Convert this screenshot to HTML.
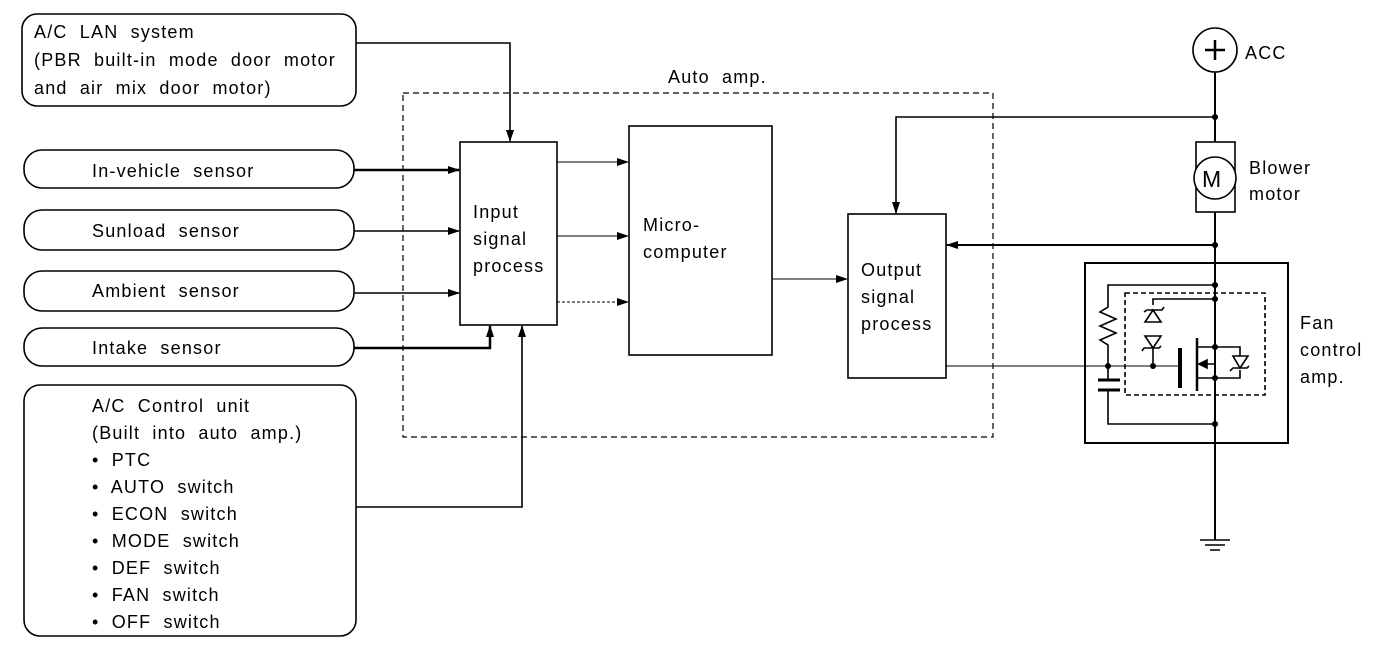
<!DOCTYPE html>
<html><head><meta charset="utf-8"><style>
html,body{margin:0;padding:0;background:#fff;}
svg{display:block;}
text{font-family:"Liberation Sans",Arial,sans-serif;font-size:18px;fill:#000;word-spacing:6px;letter-spacing:1.2px;}
</style></head><body>
<svg width="1392" height="656" viewBox="0 0 1392 656" xmlns="http://www.w3.org/2000/svg">
<defs>
<marker id="ar" markerWidth="12" markerHeight="8" refX="11" refY="4" orient="auto" markerUnits="userSpaceOnUse"><path d="M0,0 L12,4 L0,8 z" fill="#000"/></marker>
</defs>
<g fill="none" stroke="#000" stroke-width="1.6">
<rect x="22" y="14" width="334" height="92" rx="15"/>
<rect x="24" y="150" width="330" height="38" rx="18"/>
<rect x="24" y="210" width="330" height="40" rx="18"/>
<rect x="24" y="271" width="330" height="40" rx="18"/>
<rect x="24" y="328" width="330" height="38" rx="18"/>
<rect x="24" y="385" width="332" height="251" rx="16"/>
<rect x="403" y="93" width="590" height="344" stroke-dasharray="6,4" stroke-width="1.2"/>
<rect x="460" y="142" width="97" height="183"/>
<rect x="629" y="126" width="143" height="229"/>
<rect x="848" y="214" width="98" height="164"/>
<path d="M356,43 H510 V141" marker-end="url(#ar)"/>
<path d="M354,170 H459" stroke-width="2.5" marker-end="url(#ar)"/>
<path d="M354,231 H459" marker-end="url(#ar)"/>
<path d="M354,293 H459" marker-end="url(#ar)"/>
<path d="M354,348 H490 V326" stroke-width="2.5" marker-end="url(#ar)"/>
<path d="M356,507 H522 V326" marker-end="url(#ar)"/>
<path d="M557,162 H628" stroke-width="1" marker-end="url(#ar)"/>
<path d="M557,236 H628" stroke-width="1" marker-end="url(#ar)"/>
<path d="M557,302 H628" stroke-width="1" stroke-dasharray="3,2" marker-end="url(#ar)"/>
<path d="M772,279 H847" stroke-width="1" marker-end="url(#ar)"/>
<path d="M946,366 H1180" stroke-width="1"/>
<circle cx="1215" cy="50" r="22"/>
<path d="M1215,72 V142 M1215,212 V540" stroke-width="2"/>
<path d="M1215,117 H896 V213" marker-end="url(#ar)"/>
<rect x="1196" y="142" width="39" height="70"/>
<circle cx="1215" cy="178" r="21" fill="#fff"/>
<path d="M1215,245 H947" stroke-width="2" marker-end="url(#ar)"/>
<path d="M1200,540 H1230 M1205,545 H1225 M1210,550 H1220" stroke-width="1.5"/>
<rect x="1085" y="263" width="203" height="180" stroke-width="2"/>
<rect x="1125" y="293" width="140" height="102" stroke-dasharray="5,3"/>
<path d="M1108,366 V345 L1100,340 L1116,333 L1100,326 L1116,319 L1100,312 L1108,307 V285 H1215"/>
<path d="M1108,366 V380 M1108,390 V424 H1215" />
<path d="M1098,380 H1120 M1098,390 H1120" stroke-width="3"/>
<path d="M1153,305 V299 H1215"/>
<path d="M1145,322 H1161 L1153,310 Z M1144,312 L1147,310 H1162 L1164,307"/>
<path d="M1145,336 H1161 L1153,348 Z M1142,351 L1144,348 H1159 L1161,346"/>
<path d="M1153,348 V366"/>
<path d="M1180,348 V388" stroke-width="4"/>
<path d="M1197,338 V391" stroke-width="2.5"/>
<path d="M1197,347 H1240 V356 M1197,378 H1240 V370 M1215,347 V364 H1200"/>
<path d="M1199,364 L1207,360 L1207,368 Z" fill="#000"/>
<path d="M1233,356 H1248 L1240,368 Z M1230,371 L1233,368 H1247 L1249,366"/>
</g>
<g fill="#000">
<circle cx="1215" cy="117" r="3"/><circle cx="1215" cy="245" r="3"/>
<circle cx="1215" cy="285" r="3"/><circle cx="1215" cy="299" r="3"/>
<circle cx="1215" cy="347" r="3"/><circle cx="1215" cy="378" r="3"/>
<circle cx="1215" cy="424" r="3"/><circle cx="1108" cy="366" r="3"/>
<circle cx="1153" cy="366" r="3"/>
</g>
<path d="M1205,50 H1225 M1215,40 V60" stroke="#000" stroke-width="2.5"/>
<text x="1202" y="187" style="font-size:23px;letter-spacing:0">M</text>
<text x="34" y="38">A/C LAN system</text>
<text x="34" y="66">(PBR built-in mode door motor</text>
<text x="34" y="94">and air mix door motor)</text>
<text x="92" y="177">In-vehicle sensor</text>
<text x="92" y="237">Sunload sensor</text>
<text x="92" y="297">Ambient sensor</text>
<text x="92" y="354">Intake sensor</text>
<text x="92" y="412">A/C Control unit</text>
<text x="92" y="439">(Built into auto amp.)</text>
<text x="92" y="466">• PTC</text>
<text x="92" y="493">• AUTO switch</text>
<text x="92" y="520">• ECON switch</text>
<text x="92" y="547">• MODE switch</text>
<text x="92" y="574">• DEF switch</text>
<text x="92" y="601">• FAN switch</text>
<text x="92" y="628">• OFF switch</text>
<text x="668" y="83">Auto amp.</text>
<text x="473" y="218">Input</text>
<text x="473" y="245">signal</text>
<text x="473" y="272">process</text>
<text x="643" y="231">Micro-</text>
<text x="643" y="258">computer</text>
<text x="861" y="276">Output</text>
<text x="861" y="303">signal</text>
<text x="861" y="330">process</text>
<text x="1245" y="59">ACC</text>
<text x="1249" y="174">Blower</text>
<text x="1249" y="200">motor</text>
<text x="1300" y="329">Fan</text>
<text x="1300" y="356">control</text>
<text x="1300" y="383">amp.</text>
</svg>
</body></html>
